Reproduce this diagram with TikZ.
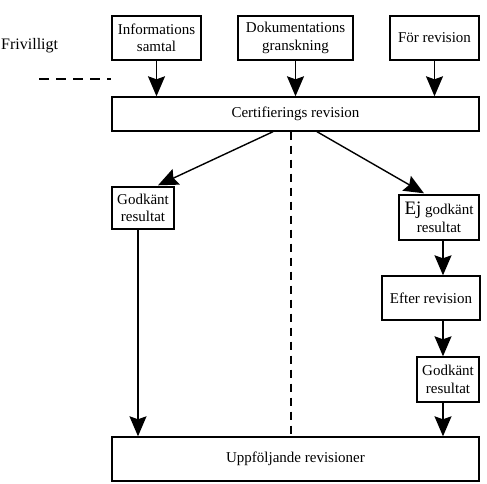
\documentclass[tikz,border=0pt]{standalone}
\usepackage{fontspec}
\setmainfont{Liberation Serif}
\usepackage{tikz}
\usetikzlibrary{calc}
\usetikzlibrary{arrows.meta}
\usetikzlibrary{positioning}
\tikzset{
	box/.style={draw, line width=1.4pt, rectangle, align=center, inner sep=0pt,
		font=\fontsize{15}{17.5}\selectfont},
	flow/.style={line width=1.4pt, -{Stealth[length=20pt,width=17pt,inset=3pt]}},
	border/.style={line width=1.4pt, dash pattern=on 8pt off 6pt}
}
\newcommand{\bigEj}{{\fontsize{19}{19}\selectfont Ej}}

\begin{document}
\begin{tikzpicture}[x=1pt, y=-1pt]
	\useasboundingbox (0,0) rectangle (487,484);

		\node [box, minimum width=89pt, minimum height=44pt] (info) at (156.5,38) {Informations\\samtal};
		\node [box, minimum width=115pt, minimum height=44pt] (dok) at (295.5,38) {Dokumentations\\granskning};
		\node [box, minimum width=89pt, minimum height=44pt] (foer) at (434.5,38) {För revision};
		\node [box, minimum width=367pt, minimum height=34pt] (cert) at (295.5,114) {Certifierings revision};
		\node [box, minimum width=62pt, minimum height=42pt] (godL) at (143,208) {Godkänt\\resultat};
		\node [box, minimum width=80pt, minimum height=45pt] (ej) at (439,217.5) {\bigEj{} godkänt\\resultat};
		\node [box, minimum width=98pt, minimum height=44pt] (efter) at (431,298) {Efter revision};
		\node [box, minimum width=62pt, minimum height=45pt] (godR) at (448,379.5) {Godkänt\\resultat};
		\node [box, minimum width=367pt, minimum height=44pt] (uppf) at (295.5,459) {Uppföljande revisioner};

		\node [anchor=west, inner sep=0pt, font=\fontsize{16}{19}\selectfont] (friv) at (1,46) {Frivilligt};

		\coordinate (lx) at (138,0); %left line
		\coordinate (rx) at (443,0); %right chain
		\coordinate (mx) at (291,0); %split
		\coordinate (cl) at (273,0);
		\coordinate (cr) at (317,0);
		\coordinate (dl) at (158,0);
		\coordinate (dr) at (424,0);
		\coordinate (fv) at (39,79);

		\draw [flow] (info) -- (info |- cert.north);
		\draw [flow] (dok) -- (dok |- cert.north);
		\draw [flow] (foer) -- (foer |- cert.north);

		\draw [flow] (cert.south -| cl) -- ($(godL.north -| dl) + (0,-1)$);
		\draw [flow] (cert.south -| cr) -- ($(ej.north -| dr) + (0,-1)$);

		\draw [flow] (godL.south -| lx) -- (uppf.north -| lx);
		\draw [flow] (ej.south -| rx) -- (efter.north -| rx);
		\draw [flow] (efter.south -| rx) -- (godR.north -| rx);
		\draw [flow] (godR.south -| rx) -- (uppf.north -| rx);

		\draw [border] (cert.south -| mx) -- (uppf.north -| mx);
		\draw [border, dash pattern=on 10pt off 7pt] (fv) -- (fv -| cert.west);
	\end{tikzpicture}
\end{document}
